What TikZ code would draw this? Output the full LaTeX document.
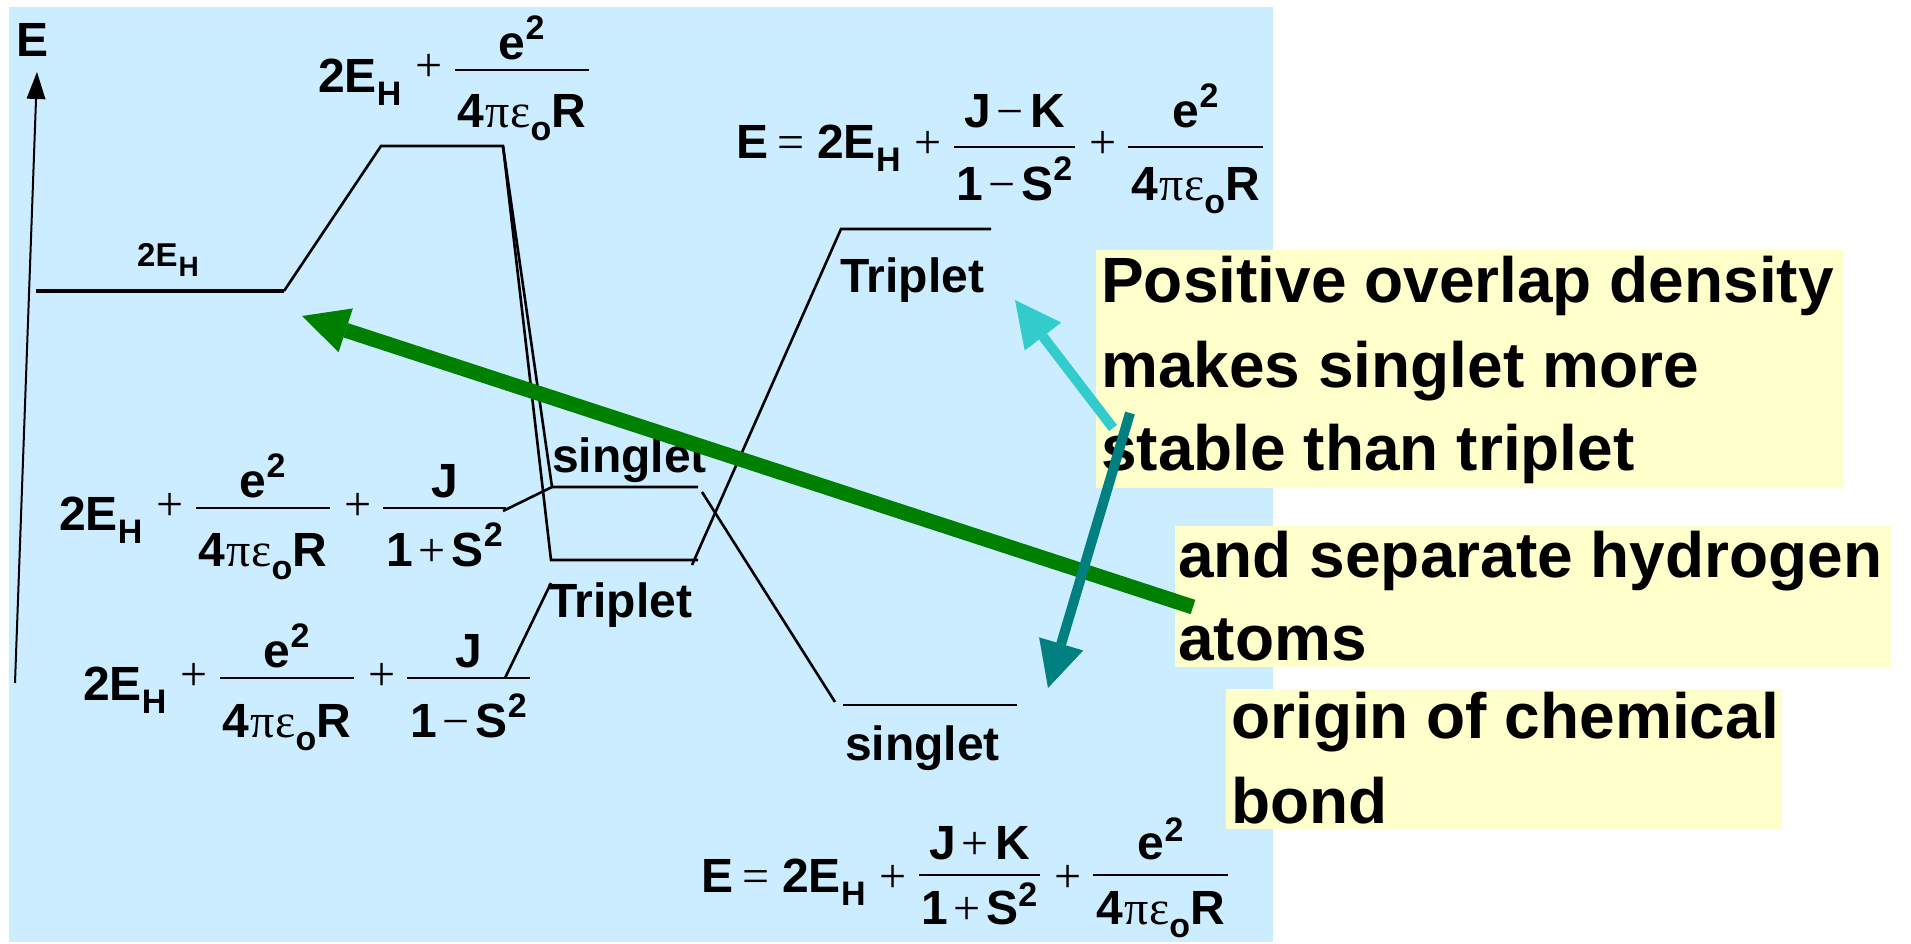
\documentclass[tikz,border=0pt]{standalone}
\usepackage{fontspec}
\usetikzlibrary{arrows.meta}
\setmainfont{Liberation Sans}
\newfontfamily\sansf{Liberation Sans}
\newfontfamily\seriff{Liberation Serif}
\definecolor{bgblue}{HTML}{CCECFF}
\definecolor{boxyellow}{HTML}{FFFFCC}
\definecolor{arrgreen}{HTML}{008000}
\definecolor{arrcyan}{HTML}{33CCCC}
\definecolor{arrteal}{HTML}{008080}
\newcommand\B[1]{{\sansf\bfseries #1}}
\newcommand\OP[1]{{\seriff\mdseries #1}}
\def\subdrop{13pt}\def\suprise{20pt}\def\subsz{34}
\newcommand\sbs[1]{\raisebox{-\subdrop}{\fontsize{\subsz}{\subsz}\selectfont\sansf\bfseries #1}}
\newcommand\sps[1]{\raisebox{\suprise}{\fontsize{\subsz}{\subsz}\selectfont\sansf\bfseries #1}}
\def\axh{12pt}\def\numg{19pt}\def\deng{56pt}
\newdimen\frw
\newsavebox\fnum \newsavebox\fden
\newcommand\fr[2]{%
  \sbox\fnum{#1}\sbox\fden{#2}%
  \frw=\wd\fnum \ifdim\wd\fden>\frw \frw=\wd\fden\fi
  \advance\frw by 6pt
  \raisebox{\axh}{%
    \makebox[0pt][l]{\makebox[\frw]{\raisebox{\numg}{\usebox\fnum}}}%
    \makebox[0pt][l]{\makebox[\frw]{\raisebox{-\deng}{\usebox\fden}}}%
    \rule[-1.3pt]{\frw}{2.6pt}}}
\newcommand\EH{\B{2E}\sbs{H}}
\newcommand\coul{\fr{\B{e}\sps{2}}{\B{4}\kern1pt\OP{π\kern1ptε}\sbs{o}\B{R}}}
\newcommand\pl{\kern14pt\OP{+}\kern12pt}
\begin{document}
\begin{tikzpicture}[x=1pt,y=-1pt,
  lvl/.style={line width=2.6pt},
  lbl/.style={inner sep=0pt,anchor=base west,font=\fontsize{48}{58}\selectfont\sansf\bfseries},
  frm/.style={inner sep=0pt,anchor=base west,font=\fontsize{48}{58}\selectfont\sansf\bfseries},
  ybox/.style={fill=boxyellow,draw=none,inner sep=0pt,anchor=north west},
  btxt/.style={inner sep=0pt,anchor=base west,font=\fontsize{64}{84}\selectfont\sansf\bfseries},
  bigarrow/.style={draw=#1,line width=10pt,-{Triangle[length=46pt,width=46pt,line width=0pt]}}]
\useasboundingbox (0,0) rectangle (1911,944);
\fill[bgblue] (9,7) rectangle (1273,942);
% axis
\coordinate (axB) at (15,683);
\coordinate (axT) at (37,72);
\draw[line width=2pt,-{Triangle[length=27pt,width=19pt,line width=0pt]}] (axB) -- (axT);
\node[lbl] (axlbl) at (16,57) {E};
% level coordinates
\coordinate (a1) at (36,291);
\coordinate (a2) at (284,291);
\coordinate (t1) at (381,146);
\coordinate (t2) at (503,146);
\coordinate (s1L) at (552,487);
\coordinate (s1R) at (698,487);
\coordinate (tr1L) at (551,560);
\coordinate (tr1R) at (698,560);
\coordinate (d1) at (702,492);
\coordinate (d2) at (835,702);
\coordinate (s2L) at (843,705);
\coordinate (s2R) at (1017,705);
\coordinate (u1) at (692,565);
\coordinate (tr2L) at (841,229);
\coordinate (tr2R) at (991,229);
\coordinate (c1a) at (503,511);
\coordinate (c2a) at (505,678);
\coordinate (c2b) at (551,583);
\draw[line width=4pt] (a1) -- (a2);
\draw[lvl] (a2) -- (t1) -- (t2) -- (s1L) -- (s1R);
\draw[lvl] (t2) -- (tr1L) -- (tr1R);
\draw[lvl] (d1) -- (d2);
\draw[lvl] (s2L) -- (s2R);
\draw[lvl] (u1) -- (tr2L) -- (tr2R);
\draw[lvl] (c1a) -- (s1L);
\draw[lvl] (c2a) -- (c2b);
% level labels
\node[inner sep=0pt,anchor=base west] (lvAlbl) at (137,266)
  {\fontsize{33}{36}\selectfont\sansf\bfseries 2E\kern1pt\raisebox{-10pt}{\fontsize{28}{28}\selectfont H}};
\node[lbl] (sing1) at (552,472) {singlet};
\node[lbl] (trip1) at (548,617) {Triplet};
\node[lbl] (trip2) at (840,292) {Triplet};
\node[lbl] (sing2) at (845,760) {singlet};
% formulas
\node[frm] (ftop) at (318,82)
  {\def\numg{10pt}\def\deng{58pt}\raisebox{-11pt}{\EH}\pl\coul};
\node[frm] (frow1) at (59,520)
  {\def\numg{11pt}\def\deng{58pt}\raisebox{-10pt}{\EH}\pl\coul\pl
   \fr{\B{J}}{\B{1}\kern6pt\OP{+}\kern6pt\B{S}\sps{2}}};
\node[frm] (frow2) at (83,690)
  {\def\numg{11pt}\def\deng{59pt}\raisebox{-10pt}{\EH}\pl\coul\pl
   \fr{\B{J}}{\B{1}\kern6pt\OP{−}\kern6pt\B{S}\sps{2}}};
\node[frm] (fright) at (736,159)
  {\def\numg{19pt}\def\deng{54pt}\B{E}\kern9pt\OP{=}\kern13pt\EH\pl
   \fr{\B{J}\kern6pt\OP{−}\kern6pt\B{K}}{\B{1}\kern5pt\OP{−}\kern6pt\B{S}\sps{2}}\pl\coul};
\node[frm] (fbot) at (701,892)
  {\def\axh{17pt}\def\numg{16pt}\def\deng{49pt}\def\suprise{18pt}%
   \B{E}\kern9pt\OP{=}\kern13pt\EH\pl
   \fr{\B{J}\kern6pt\OP{+}\kern6pt\B{K}}{\B{1}\kern5pt\OP{+}\kern6pt\B{S}\sps{2}}\pl\coul};
% yellow boxes
\node[ybox,minimum width=747pt,minimum height=238pt] (box1) at (1096,250) {};
\node[ybox,minimum width=716pt,minimum height=141pt] (box2) at (1175,526) {};
\node[ybox,minimum width=556pt,minimum height=140pt] (box3) at (1226,689) {};
\node[btxt] (b1l1) at (1101,302) {Positive overlap density};
\node[btxt] (b1l2) at (1101,387) {makes singlet more};
\node[btxt] (b1l3) at (1101,470) {stable than triplet};
\node[btxt] (b2l1) at (1178,577) {and separate hydrogen};
\node[btxt] (b2l2) at (1178,660) {atoms};
\node[btxt] (b3l1) at (1231,738) {origin of chemical};
\node[btxt] (b3l2) at (1231,823) {bond};
% arrows
\coordinate (cT) at (1113,428);
\coordinate (cH) at (1015,300);
\coordinate (tT) at (1130,413);
\coordinate (tH) at (1048,688);
\coordinate (gT) at (1193,607);
\coordinate (gH) at (302,316);
\draw[bigarrow=arrcyan] (cT) -- (cH);
\draw[bigarrow=arrgreen,line width=15pt] (gT) -- (gH);
\draw[bigarrow=arrteal] (tT) -- (tH);
\end{tikzpicture}
\end{document}
